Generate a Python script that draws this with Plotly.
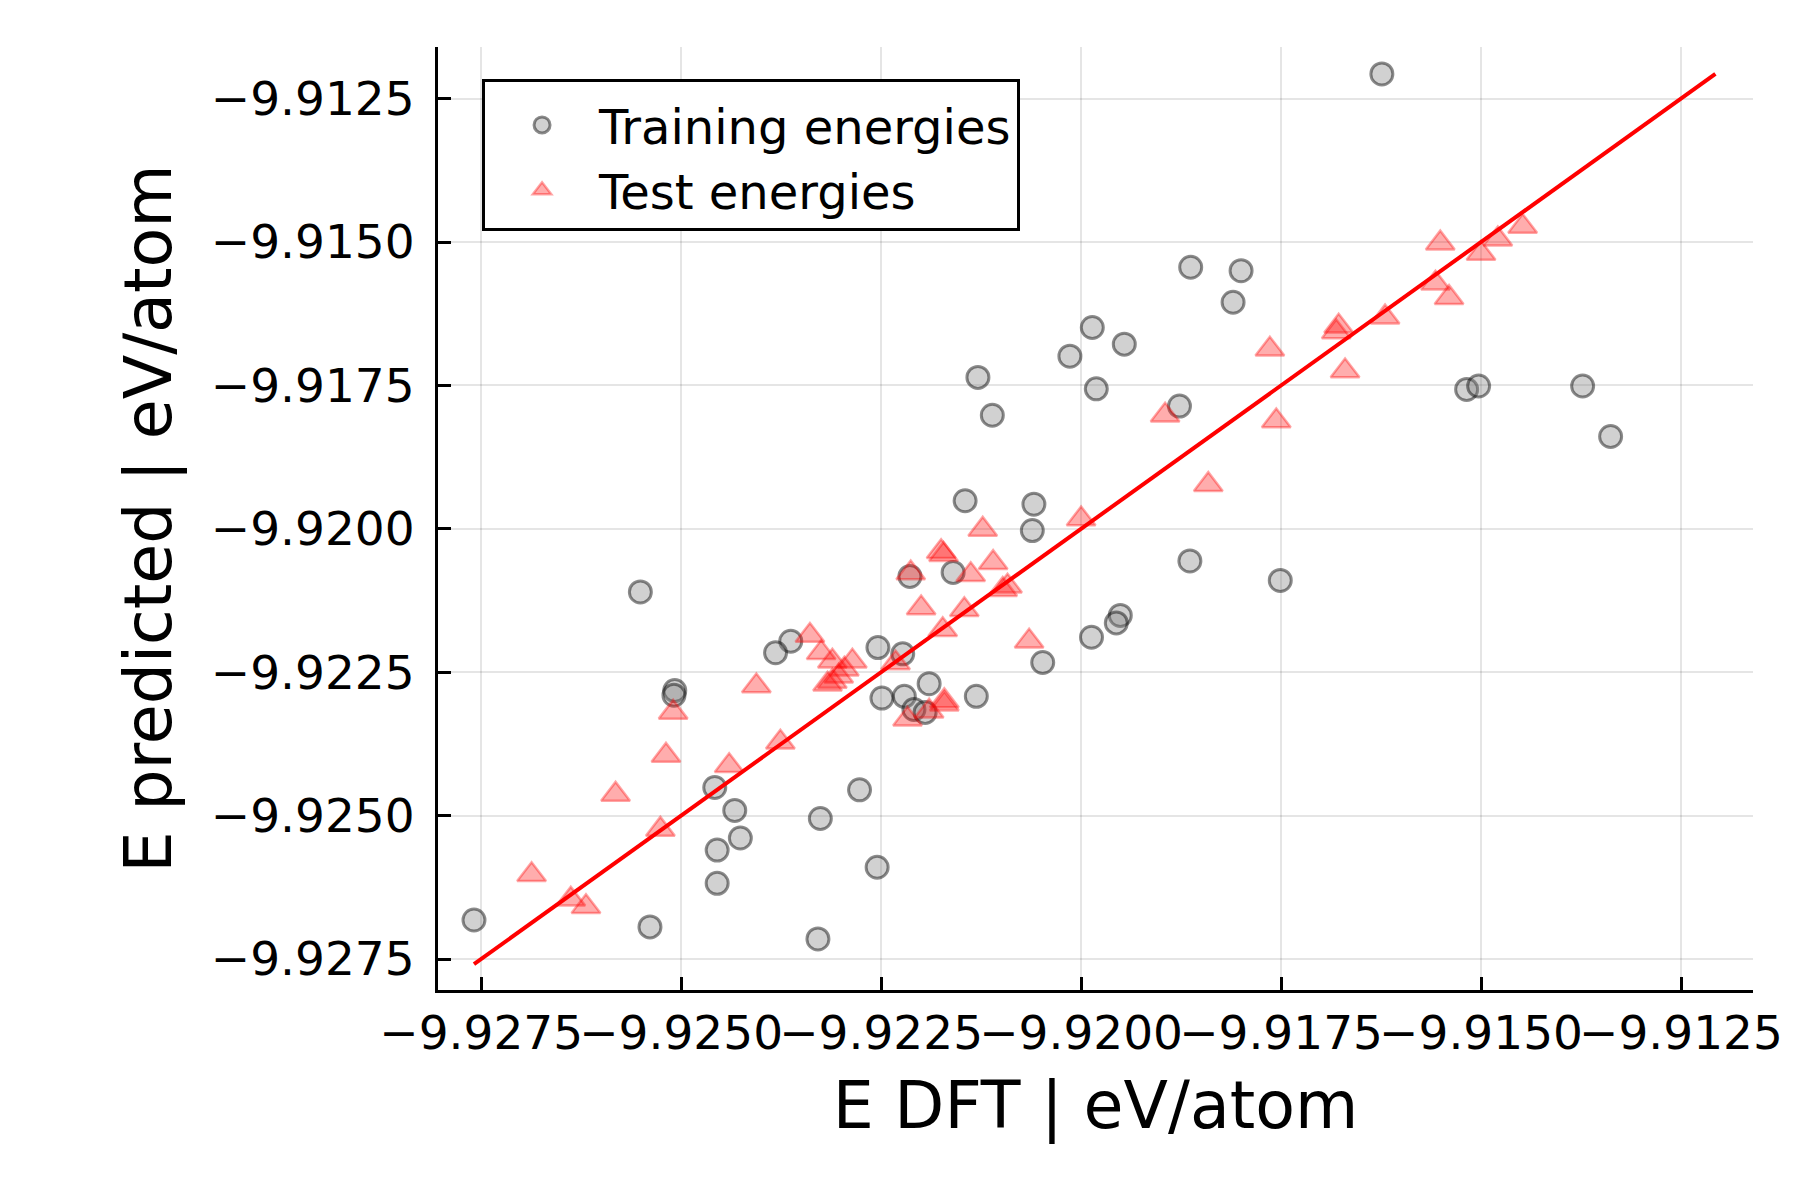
import plotly.graph_objects as go

# ---- data (eV/atom) ----
train_dft = [-9.91624, -9.91863, -9.91800, -9.91810, -9.91986, -9.91946, -9.92014, -9.92129,
             -9.91981, -9.91877, -9.92111, -9.91518, -9.91503, -9.91373, -9.91338, -9.92145,
             -9.92059, -9.92061, -9.91864, -9.91751, -9.91951, -9.91956, -9.91987, -9.92048,
             -9.92551, -9.92160, -9.92214, -9.92363, -9.92382, -9.92254, -9.92223, -9.92508,
             -9.92509, -9.92249, -9.92221, -9.92190, -9.92209, -9.92195, -9.92131, -9.92458,
             -9.92433, -9.92426, -9.92455, -9.92455, -9.92326, -9.92277, -9.92255, -9.92759,
             -9.92539, -9.92329]
train_pred = [-9.91207, -9.91544, -9.91550, -9.91605, -9.91649, -9.91678, -9.91699, -9.91736,
              -9.91756, -9.91786, -9.91802, -9.91757, -9.91751, -9.91751, -9.91839, -9.91951,
              -9.91957, -9.92003, -9.92056, -9.92090, -9.92151, -9.92164, -9.92189, -9.92233,
              -9.92110, -9.92076, -9.92083, -9.92196, -9.92216, -9.92207, -9.92218, -9.92282,
              -9.92290, -9.92295, -9.92292, -9.92270, -9.92315, -9.92320, -9.92292, -9.92451,
              -9.92491, -9.92539, -9.92560, -9.92618, -9.92505, -9.92455, -9.92590, -9.92682,
              -9.92694, -9.92715]

test_dft = [-9.91551, -9.91500, -9.91479, -9.91448, -9.91557, -9.91540, -9.91620, -9.91681,
            -9.91678, -9.91764, -9.91670, -9.91756, -9.91895, -9.91841, -9.92000, -9.92123,
            -9.92175, -9.92172, -9.92110, -9.92213, -9.92138, -9.92098, -9.92092, -9.92200,
            -9.92146, -9.92173, -9.92065, -9.92339, -9.92325, -9.92311, -9.92286, -9.92296,
            -9.92303, -9.92311, -9.92317, -9.92232, -9.92406, -9.92171, -9.92171, -9.92190,
            -9.92217, -9.92510, -9.92519, -9.92376, -9.92440, -9.92582, -9.92526, -9.92687,
            -9.92638, -9.92619]
test_pred = [-9.91502, -9.91520, -9.91495, -9.91473, -9.91572, -9.91597, -9.91631, -9.91657,
             -9.91647, -9.91687, -9.91725, -9.91812, -9.91802, -9.91923, -9.91983, -9.92001,
             -9.92040, -9.92045, -9.92059, -9.92077, -9.92080, -9.92106, -9.92100, -9.92138,
             -9.92141, -9.92176, -9.92196, -9.92186, -9.92216, -9.92231, -9.92231, -9.92245,
             -9.92257, -9.92266, -9.92271, -9.92234, -9.92274, -9.92300, -9.92306, -9.92318,
             -9.92332, -9.92320, -9.92395, -9.92372, -9.92413, -9.92463, -9.92524, -9.92603,
             -9.92646, -9.92659]

tick_vals = [-9.9275, -9.9250, -9.9225, -9.9200, -9.9175, -9.9150, -9.9125]
axis_range = [-9.92804, -9.91160]

all_vals = train_dft + train_pred + test_dft + test_pred
line_ends = [min(all_vals), max(all_vals)]

FONT = "DejaVu Sans"

fig = go.Figure()
fig.add_trace(go.Scatter(
    x=train_dft, y=train_pred, mode="markers", name="Training energies",
    marker=dict(symbol="circle", size=22, color="rgba(128,128,128,0.36)",
                line=dict(color="rgba(0,0,0,0.45)", width=3)),
))
fig.add_trace(go.Scatter(
    x=test_dft, y=test_pred, mode="markers", name="Test energies",
    marker=dict(symbol="triangle-up", size=25, color="rgba(255,0,0,0.32)",
                line=dict(color="rgba(255,0,0,0.35)", width=2.5)),
))
fig.add_trace(go.Scatter(
    x=line_ends, y=line_ends, mode="lines", showlegend=False,
    line=dict(color="#ff0000", width=4),
))

axis_common = dict(
    range=axis_range, tickvals=tick_vals, tickformat=".4f", tickangle=0,
    automargin=False,
    showgrid=True, gridcolor="rgba(0,0,0,0.1)", gridwidth=1.5,
    zeroline=False, showline=True, linecolor="black", linewidth=3, mirror=False,
    ticks="inside", ticklen=13, tickwidth=3, tickcolor="black",
    tickfont=dict(family=FONT, size=47, color="black"),
)

fig.update_xaxes(**axis_common, ticklabelstandoff=0,
                 title=dict(text="E DFT | eV/atom", font=dict(family=FONT, size=65, color="black"),
                            standoff=24))
fig.update_yaxes(**axis_common, ticklabelstandoff=11,
                 title=dict(text="E predicted | eV/atom", font=dict(family=FONT, size=65, color="black"),
                            standoff=19))

# the page body adds an 8 px offset, compensated in the margins
fig.update_layout(
    width=1800, height=1200,
    margin=dict(l=430, r=55, t=39, b=218),
    plot_bgcolor="white", paper_bgcolor="white",
    font=dict(family=FONT, color="black"),
    legend=dict(x=0.0335, y=0.966, xanchor="left", yanchor="top",
                bgcolor="white", bordercolor="black", borderwidth=3,
                font=dict(family=FONT, size=48, color="black"),
                title=dict(text=" ", font=dict(size=4)),
                itemwidth=104),
)

fig.write_html("out.html")
